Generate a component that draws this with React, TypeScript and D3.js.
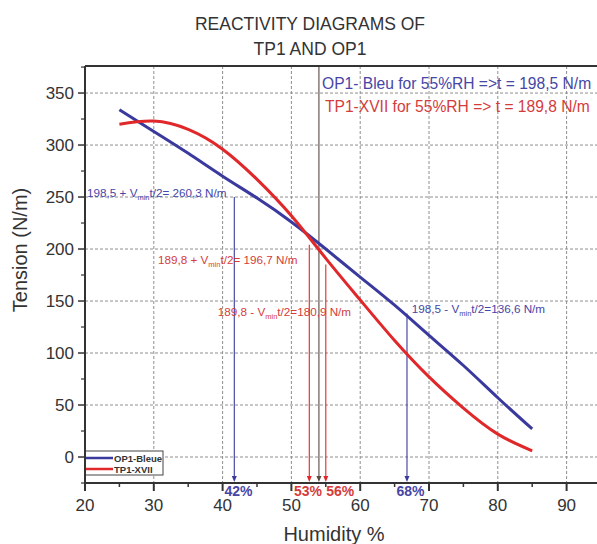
import React from "react";
import * as d3 from "d3";

const humidity = [25, 30, 35, 40, 45, 50, 55, 60, 65, 70, 75, 80, 85];
const op1Tension = [334, 313, 292, 270, 249, 226, 200, 173, 146, 117, 88, 57, 27];
const tp1Tension = [320, 323, 315, 296, 267, 232, 191, 151, 112, 77, 47, 22, 6];

const xTicks = [20, 30, 40, 50, 60, 70, 80, 90];
const xMinor = [25, 35, 45, 55, 65, 75, 85, 95];
const yTicks = [0, 50, 100, 150, 200, 250, 300, 350];
const yMinor = [-25, 25, 75, 125, 175, 225, 275, 325, 375];

const seriesNames = ["OP1-Bleue", "TP1-XVII"];
const infoLines = [
  "OP1- Bleu for 55%RH =>t = 198,5 N/m",
  "TP1-XVII for 55%RH => t = 189,8 N/m",
];

// "value ± Vmin t/2" notes
const noteHead = ["198,5 + V", "189,8 + V", "189,8 - V", "198,5 - V"];
const noteTail = ["t/2= 260,3 N/m", "t/2= 196,7 N/m", "t/2=180,9 N/m", "t/2=136,6 N/m"];
const noteX = [20.3, 30.6, 39.3, 67.5];
const noteY = [250, 185.6, 135.6, 138.5];
const noteSeries = ["op1", "tp1", "tp1", "op1"];

// vertical drop lines to the humidity axis
const dropX = [41.7, 52.6, 54.0, 55.0, 66.8];
const dropFrom = [250, 204, 376, 185, 138];
const dropSeries = ["op1", "tp1", "ref", "tp1", "op1"];
const dropLabel = ["42%", "53%", "", "56%", "68%"];
const dropLabelX = [42.3, 52.4, 0, 57.1, 67.3];

const colors = { op1: "#3a3a9e", tp1: "#e0282a", ref: "#5a4a44" };
const textColors = { op1: "#4646a6", tp1: "#d43c3c", ref: "#5a4a44" };

const W = 597;
const H = 544;
const font = "'Liberation Sans', Arial, sans-serif";

export default function App() {
  const x = d3.scaleLinear().domain([20, 95]).range([85, 601]);
  const y = d3.scaleLinear().domain([-25, 376]).range([483, 66]);
  const [x0, x1] = x.range();
  const [yb, yt] = y.range();

  const line = d3
    .line<number>()
    .x((d, i) => x(humidity[i]))
    .y((d) => y(d))
    .curve(d3.curveNatural);

  return (
    <div>
      <style>{`body{margin:0}`}</style>
      <svg width={W} height={H} style={{ display: "block", background: "#fff" }} fontFamily={font}>
        <defs>
          <clipPath id="plot">
            <rect x={x0} y={yt} width={x1 - x0} height={yb - yt} />
          </clipPath>
        </defs>

        {/* title */}
        <text x={310} y={30} textAnchor="middle" fontSize={17.5} fill="#333">
          REACTIVITY DIAGRAMS OF
        </text>
        <text x={310} y={55} textAnchor="middle" fontSize={17.5} fill="#333">
          TP1 AND OP1
        </text>

        <g clipPath="url(#plot)">
          {/* grid */}
          {xTicks.slice(1).map((t) => (
            <line key={"gx" + t} x1={x(t)} x2={x(t)} y1={yt} y2={yb} stroke="#8f8f8f" strokeWidth={1} strokeDasharray="3,2" />
          ))}
          {yTicks.map((t) => (
            <line key={"gy" + t} x1={x0} x2={x1} y1={y(t)} y2={y(t)} stroke="#8f8f8f" strokeWidth={1} strokeDasharray="3,2" />
          ))}

          {/* drop lines */}
          {dropX.map((v, i) => (
            <g key={"d" + i}>
              <line x1={x(v)} x2={x(v)} y1={y(dropFrom[i])} y2={yb - 4} stroke={colors[dropSeries[i]]} strokeWidth={1.1} />
              <path
                d={`M${x(v) - 2.5},${yb - 7}L${x(v) + 2.5},${yb - 7}L${x(v)},${yb - 1}Z`}
                fill={colors[dropSeries[i]]}
              />
            </g>
          ))}

          {/* curves */}
          <path d={line(op1Tension) || ""} fill="none" stroke={colors.op1} strokeWidth={3} />
          <path d={line(tp1Tension) || ""} fill="none" stroke={colors.tp1} strokeWidth={3} />

          {/* notes */}
          {noteHead.map((h, i) => (
            <text key={"n" + i} x={x(noteX[i])} y={y(noteY[i])} fontSize={11.7} fill={textColors[noteSeries[i]]}>
              {h}
              <tspan fontSize={7.5} dy={3}>min</tspan>
              <tspan dy={-3}>{noteTail[i]}</tspan>
            </text>
          ))}

          {/* info text */}
          {infoLines.map((s, i) => (
            <text key={"i" + i} x={i === 0 ? 322 : 325} y={89 + i * 23} fontSize={15.6} fill={i === 0 ? textColors.op1 : textColors.tp1}>
              {s}
            </text>
          ))}

          {/* legend */}
          <rect x={x0} y={451} width={78} height={24} fill="#fff" stroke="#444" strokeWidth={1} />
          {seriesNames.map((s, i) => (
            <g key={"l" + i}>
              <line x1={x0} x2={x0 + 28} y1={458 + i * 11} y2={458 + i * 11} stroke={i === 0 ? colors.op1 : colors.tp1} strokeWidth={2.5} />
              <text x={x0 + 29} y={461.5 + i * 11} fontSize={9.5} fontWeight="bold" fill="#333">
                {s}
              </text>
            </g>
          ))}
        </g>

        {/* axes frame */}
        <line x1={x0} x2={x0} y1={yt} y2={yb} stroke="#333" strokeWidth={2} />
        <line x1={x0} x2={W} y1={yb} y2={yb} stroke="#333" strokeWidth={2} />
        <line x1={x0} x2={W} y1={yt} y2={yt} stroke="#333" strokeWidth={2} />

        {/* x ticks */}
        {xTicks.map((t) => (
          <g key={"xt" + t}>
            <line x1={x(t)} x2={x(t)} y1={yb} y2={yb + 8} stroke="#333" strokeWidth={2} />
            <text x={x(t)} y={511} textAnchor="middle" fontSize={17} fill="#333">
              {t}
            </text>
          </g>
        ))}
        {xMinor.map((t) => (
          <line key={"xm" + t} x1={x(t)} x2={x(t)} y1={yb} y2={yb + 4} stroke="#333" strokeWidth={1.5} />
        ))}

        {/* y ticks */}
        {yTicks.map((t) => (
          <g key={"yt" + t}>
            <line x1={x0 - 7} x2={x0} y1={y(t)} y2={y(t)} stroke="#333" strokeWidth={1.5} />
            <text x={74} y={y(t) + 6} textAnchor="end" fontSize={17} fill="#333">
              {t}
            </text>
          </g>
        ))}
        {yMinor.map((t) => (
          <line key={"ym" + t} x1={x0 - 4} x2={x0} y1={y(t)} y2={y(t)} stroke="#333" strokeWidth={1.2} />
        ))}

        {/* drop labels */}
        {dropLabel.map((s, i) =>
          s ? (
            <text key={"dl" + i} x={x(dropLabelX[i])} y={496} textAnchor="middle" fontSize={14} fontWeight="bold" fill={textColors[dropSeries[i]]}>
              {s}
            </text>
          ) : null
        )}

        {/* axis titles */}
        <text x={334} y={541} textAnchor="middle" fontSize={20} fill="#333">
          Humidity %
        </text>
        <text transform={`translate(27,250) rotate(-90)`} textAnchor="middle" fontSize={20} fill="#333">
          Tension (N/m)
        </text>
      </svg>
    </div>
  );
}
